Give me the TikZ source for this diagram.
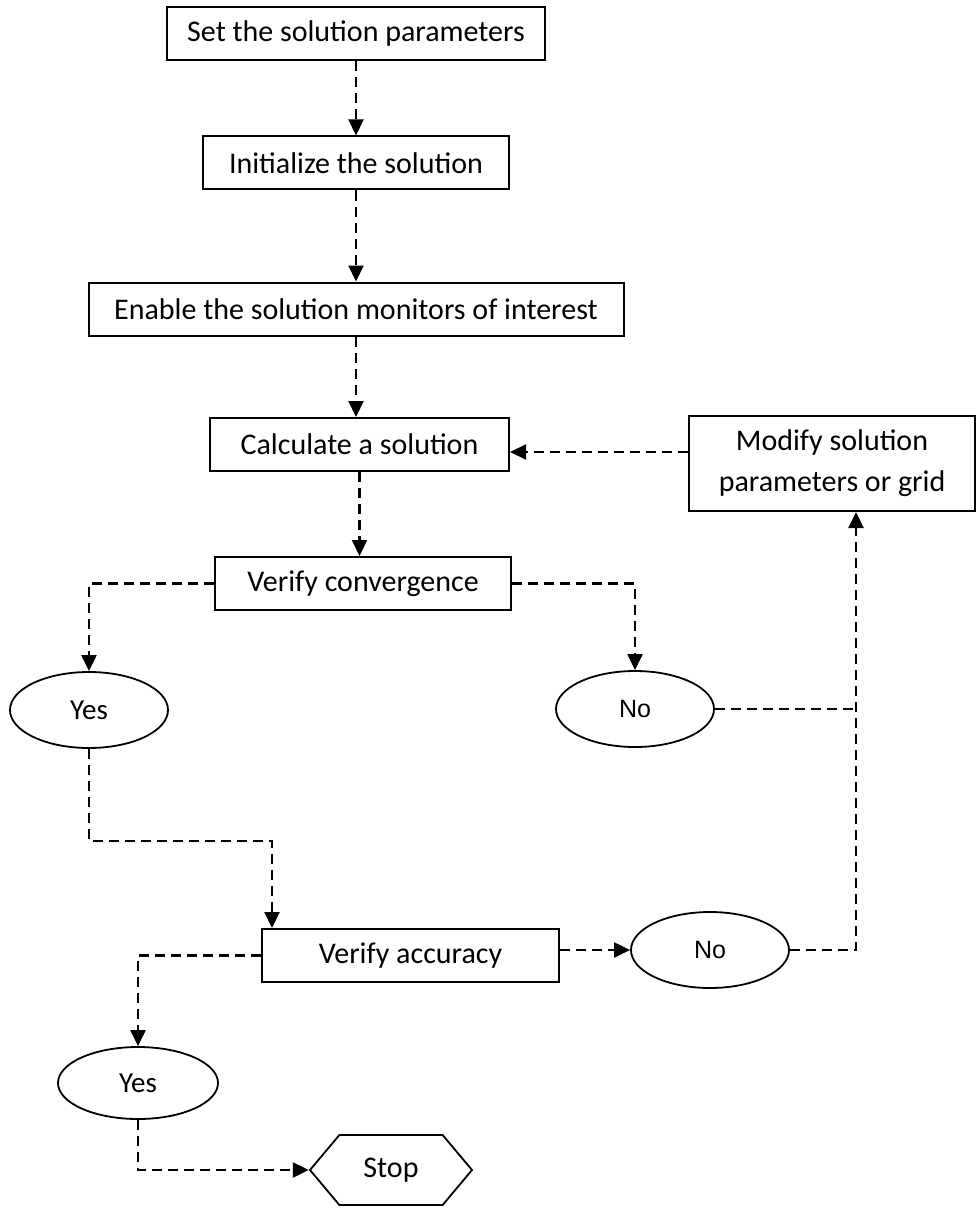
\documentclass[tikz,border=0pt]{standalone}
\usepackage{fontspec}
\setmainfont{Carlito}
\newfontfamily\arialf{Liberation Sans}
\usetikzlibrary{arrows.meta,shapes.geometric,shapes.symbols,calc}
\begin{document}
\begin{tikzpicture}[x=1pt,y=-1pt,
  box/.style={draw, line width=2pt, minimum height=53pt, inner sep=0pt, font=\fontsize{30}{41}\selectfont},
  oval/.style={draw, ellipse, line width=1.8pt, minimum width=158pt, minimum height=76pt, inner sep=0pt, font=\fontsize{29}{34}\selectfont},
  ovalno/.style={oval, font=\arialf\fontsize{25}{30}\selectfont},
  conn/.style={line width=2.2pt, dash pattern=on 10pt off 6pt},
  arr/.style={conn, -{Triangle[length=16pt,width=15pt]}}]
\useasboundingbox (0,0) rectangle (978,1209);
\node[box, minimum width=378pt] (set) at (356,34) {Set the solution parameters};
\node[box, minimum width=306pt] (init) at (356,163) {Initialize the solution};
\node[box, minimum width=535pt] (enable) at (356,309) {Enable the solution monitors of interest};
\node[box, minimum width=299pt] (calc) at (359.5,444.5) {Calculate a solution};
\node[box, minimum width=286pt, minimum height=95pt, align=center] (modify) at (832,463.5) {Modify solution\\parameters or grid};
\node[box, minimum width=296pt] (conv) at (363,583.5) {Verify convergence};
\node[oval] (yes1) at (89,710) {Yes};
\node[ovalno] (no1) at (635,709) {No};
\node[box, minimum width=297pt] (acc) at (410.5,955.5) {Verify accuracy};
\node[ovalno] (no2) at (710,950) {No};
\node[oval, minimum width=160pt, minimum height=72pt] (yes2) at (138,1083) {Yes};
\node[draw, line width=1.8pt, signal, signal to=west and east, signal pointer angle=100, minimum width=162pt, minimum height=70pt, inner sep=0pt, font=\fontsize{30}{36}\selectfont] (stop) at (391,1170) {Stop};
\coordinate (rail) at ([xshift=24pt]modify.south);
\coordinate (accin) at ($(acc.north west)+(11,0)$);
\draw[arr] (set.south) -- (set.south |- init.north);
\draw[arr] (init.south) -- (init.south |- enable.north);
\draw[arr] (enable.south) -- (enable.south |- calc.north);
\draw[arr] (calc.south) -- (calc.south |- conv.north);
\draw[arr] ([yshift=11.5pt]modify.west) -- ([yshift=11.5pt]modify.west -| calc.east);
\draw[arr] (conv.west) -| (yes1.north);
\draw[arr] (conv.east) -| (no1.north);
\draw[conn] (no1.east) -- (no1.east -| rail);
\draw[arr] (no2.east) -| (rail);
\draw[arr] (yes1.south) -- ++(0,92) -| (accin);
\draw[arr] (no2.west -| acc.east) -- (no2.west);
\draw[arr] (acc.west) -| (yes2.north);
\draw[arr] (yes2.south) |- (stop.west);
\end{tikzpicture}
\end{document}
